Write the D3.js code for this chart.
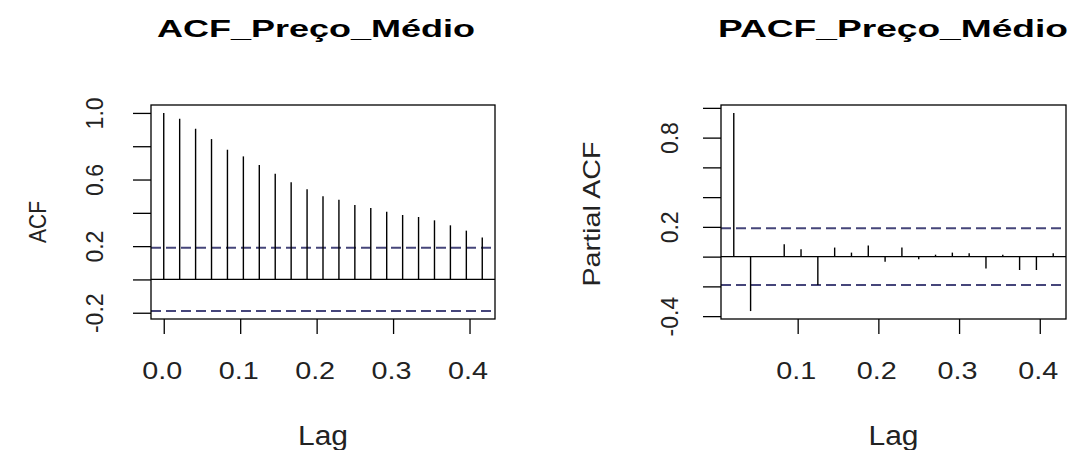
<!DOCTYPE html>
<html>
<head>
<meta charset="utf-8">
<script src="https://cdn.jsdelivr.net/npm/d3@7"></script>
<style>
  body { margin: 0; background: #fff; }
  svg { display: block; font-family: "Liberation Sans", Arial, sans-serif; }
</style>
</head>
<body>
<svg id="chart" width="1072" height="450"></svg>
<script>
// series frequency: lag k is shown as k / frequency
const frequency = 48;
const ciLevel = 0.19;

const acfLags = [0, 1, 2, 3, 4, 5, 6, 7, 8, 9, 10, 11, 12, 13, 14, 15, 16, 17, 18, 19, 20];
const acfValues = [1.000, 0.965, 0.905, 0.843, 0.779, 0.739, 0.687, 0.635, 0.583, 0.541, 0.499,
  0.479, 0.447, 0.429, 0.407, 0.387, 0.375, 0.355, 0.325, 0.293, 0.252];

const pacfLags = [1, 2, 3, 4, 5, 6, 7, 8, 9, 10, 11, 12, 13, 14, 15, 16, 17, 18, 19, 20];
const pacfValues = [0.966, -0.366, 0.004, 0.083, 0.049, -0.191, 0.061, 0.027, 0.074, -0.034,
  0.061, -0.018, 0.013, 0.027, 0.022, -0.079, 0.013, -0.090, -0.090, 0.022];

const acfXTicks = [0.0, 0.1, 0.2, 0.3, 0.4];
const acfYTicks = [-0.2, 0.0, 0.2, 0.4, 0.6, 0.8, 1.0];
const acfYLabels = [-0.2, 0.2, 0.6, 1.0];

const pacfXTicks = [0.1, 0.2, 0.3, 0.4];
const pacfYTicks = [-0.4, -0.2, 0.0, 0.2, 0.4, 0.6, 0.8, 1.0];
const pacfYLabels = [-0.4, 0.2, 0.8];

const svg = d3.select("#chart");
// R prints a plain hyphen for negatives
const fmt = d => d3.format(".1f")(d).replace("\u2212", "-");

function rangeExt(vals) {
  // R-style 4% axis extension
  const [a, b] = d3.extent(vals);
  const e = (b - a) * 0.04;
  return [a - e, b + e];
}

function drawPanel(p) {
  const lags = p.lags.map(k => k / frequency);
  const x = d3.scaleLinear().domain(rangeExt(lags)).range([p.left, p.right]);
  const y = d3.scaleLinear()
    .domain(rangeExt(p.values.concat([ciLevel, -ciLevel])))
    .range([p.bottom, p.top]);

  const g = svg.append("g");

  // title
  g.append("text")
    .attr("x", p.titleX).attr("y", 37)
    .attr("text-anchor", "middle")
    .attr("font-size", 24).attr("font-weight", "bold")
    .attr("textLength", p.titleLen).attr("lengthAdjust", "spacingAndGlyphs")
    .text(p.title);

  // zero line
  g.append("line")
    .attr("x1", p.left).attr("x2", p.right)
    .attr("y1", y(0)).attr("y2", y(0))
    .attr("stroke", "#000").attr("stroke-width", 1.3);

  // confidence bounds
  g.selectAll(".ci").data([ciLevel, -ciLevel]).join("line")
    .attr("class", "ci")
    .attr("x1", p.left).attr("x2", p.right)
    .attr("y1", d => y(d)).attr("y2", d => y(d))
    .attr("stroke", "#45457a").attr("stroke-width", 2)
    .attr("stroke-dasharray", "10,5");

  // spikes
  g.selectAll(".spike").data(p.values).join("line")
    .attr("class", "spike")
    .attr("x1", (d, i) => x(lags[i])).attr("x2", (d, i) => x(lags[i]))
    .attr("y1", y(0)).attr("y2", d => y(d))
    .attr("stroke", "#000").attr("stroke-width", 1.4);

  // box
  g.append("rect")
    .attr("x", p.left).attr("y", p.top)
    .attr("width", p.right - p.left).attr("height", p.bottom - p.top)
    .attr("fill", "none").attr("stroke", "#000").attr("stroke-width", 1.3);

  // x axis
  const xa = g.append("g")
    .attr("transform", `translate(0,${p.bottom})`)
    .call(d3.axisBottom(x).tickValues(p.xTicks).tickFormat(fmt).tickSize(15));
  xa.select(".domain").remove();
  xa.selectAll("line").attr("stroke-width", 1.3);
  xa.selectAll("text")
    .attr("y", 60).attr("dy", 0).attr("x", -2)
    .attr("font-size", 24).attr("fill", "#222")
    .attr("textLength", 40).attr("lengthAdjust", "spacingAndGlyphs");

  // y axis
  const ya = g.append("g")
    .attr("transform", `translate(${p.left},0)`)
    .call(d3.axisLeft(y).tickValues(p.yTicks)
      .tickFormat(d => p.yLabels.some(v => Math.abs(v - d) < 1e-9) ? fmt(d) : "")
      .tickSize(18));
  ya.select(".domain").remove();
  ya.selectAll("line").attr("stroke-width", 1.3);
  ya.selectAll("text")
    .attr("x", 0).attr("y", -p.yLabelOff).attr("dy", 0)
    .attr("transform", "rotate(-90)")
    .attr("text-anchor", "middle")
    .attr("font-size", 23).attr("fill", "#222");

  // axis titles
  g.append("text")
    .attr("x", (p.left + p.right) / 2).attr("y", 445)
    .attr("text-anchor", "middle")
    .attr("font-size", 27).attr("fill", "#222")
    .attr("textLength", 50).attr("lengthAdjust", "spacingAndGlyphs")
    .text("Lag");

  g.append("text")
    .attr("transform", `translate(${p.yTitleX},${p.yTitleY}) rotate(-90)`)
    .attr("text-anchor", "middle")
    .attr("font-size", 24).attr("fill", "#222")
    .attr("textLength", p.yTitleLen).attr("lengthAdjust", "spacingAndGlyphs")
    .text(p.yTitle);
}

drawPanel({
  title: "ACF_Preço_Médio", titleX: 316, titleLen: 318,
  lags: acfLags, values: acfValues,
  left: 151, right: 495, top: 105, bottom: 319,
  xTicks: acfXTicks, yTicks: acfYTicks, yLabels: acfYLabels, yLabelOff: 48,
  yTitle: "ACF", yTitleX: 46, yTitleY: 222, yTitleLen: 42
});

drawPanel({
  title: "PACF_Preço_Médio", titleX: 893, titleLen: 350,
  lags: pacfLags, values: pacfValues,
  left: 721, right: 1066, top: 105, bottom: 319,
  xTicks: pacfXTicks, yTicks: pacfYTicks, yLabels: pacfYLabels, yLabelOff: 43,
  yTitle: "Partial ACF", yTitleX: 600, yTitleY: 214, yTitleLen: 145
});
</script>
</body>
</html>
